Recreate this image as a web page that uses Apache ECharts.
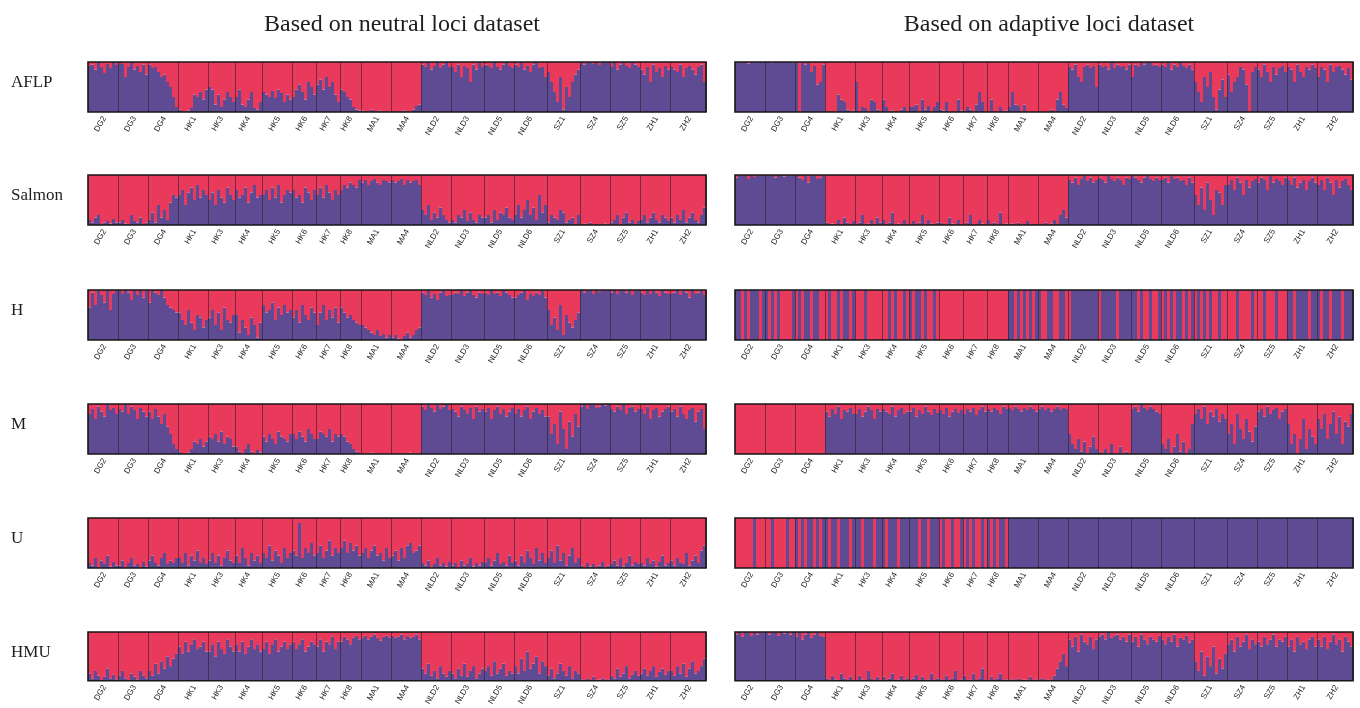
<!DOCTYPE html>
<html>
<head>
<meta charset="utf-8">
<script src="https://cdn.jsdelivr.net/npm/echarts@6/dist/echarts.min.js"></script>
<style>
  html, body { margin: 0; padding: 0; background: #ffffff; }
  #chart { width: 1360px; height: 708px; }
</style>
</head>
<body>
<div id="chart"></div>
<script>
// Sampled populations and number of individuals in each
const populations = ['DG2','DG3','DG4','HK1','HK3','HK4','HK5','HK6','HK7','HK8','MA1','MA4',
                     'NLD2','NLD3','NLD5','NLD6','SZ1','SZ4','SZ5','ZH1','ZH2'];
const sampleSizes = [10,10,10,10,9,9,10,8,8,7,10,10,10,11,10,11,11,10,10,10,12];
const markerSets = ['AFLP','Salmon','H','M','U','HMU'];
const columnTitles = ['Based on neutral loci dataset','Based on adaptive loci dataset'];

// Membership in the purple cluster (%), one inner list per population; the rest is the red cluster.
const aflpNeutral = [
  [92,95,85,100,90,78,96,88,100,94],[100,96,70,90,100,85,92,80,95,75],[95,88,90,80,70,75,60,50,30,10],
  [5,2,0,3,8,35,30,40,25,45],[50,45,15,35,10,25,40,30,20],[30,45,15,10,25,40,8,5,20],
  [40,35,30,42,28,45,38,20,35,25],[30,45,55,40,25,60,50,35],[55,65,45,70,50,60,35,20],[45,40,30,25,10,5,3],
  [3,2,0,5,2,0,3,0,2,0],[0,2,0,0,3,0,0,5,12,15],
  [95,90,100,85,92,100,88,95,100,90],[90,80,95,70,92,88,60,95,85,100,90],[95,92,88,100,90,85,95,100,92,88],
  [95,90,100,85,92,80,95,100,88,90,70],[80,60,40,20,70,5,50,30,60,75,85],[100,95,98,100,96,100,94,100,98,100],
  [90,100,85,95,100,92,88,100,95,90],[85,75,90,60,95,80,88,70,92,85],[90,85,80,95,70,88,92,85,75,90,95,60]
];
const aflpAdaptive = [
  [100,98,100,100,97,100,100,99,100,100],[100,100,99,100,100,98,100,100,100,99],[100,0,98,95,100,80,92,55,60,95],
  [0,2,0,0,35,25,20,5,0,3],[60,0,10,8,0,25,20,5,0],[25,10,0,3,0,0,5,10,0],
  [10,10,15,0,25,5,12,0,10,20],[5,3,20,0,0,0,25,3],[0,10,5,0,15,40,20,0],[0,25,0,0,10,0,3],
  [10,40,15,12,0,15,0,0,0,0],[0,0,0,0,5,0,25,40,15,8],
  [90,85,95,70,60,90,95,88,92,50],[95,90,92,85,100,88,95,90,92,85,95],[70,95,90,100,95,100,98,92,95,90],
  [95,90,100,85,95,90,100,92,88,95,85],[60,40,20,70,50,80,30,5,45,65,30],[75,40,60,70,90,85,55,0,80,90],
  [85,70,95,80,60,90,75,88,92,80],[90,85,60,95,80,70,90,85,95,88],[70,90,85,60,95,80,90,92,85,75,88,65]
];
const salmonNeutral = [
  [10,5,15,20,0,5,8,3,12,5],[5,10,3,0,20,8,5,15,0,5],[10,25,5,40,15,30,10,45,60,55],
  [60,70,40,65,75,50,80,55,70,60],[50,65,40,70,55,45,75,60,50],[70,55,60,75,45,65,80,55,60],
  [60,70,50,75,55,80,45,60,70,65],[70,55,60,45,75,65,50,70],[60,75,55,80,65,50,70,60],[70,80,75,85,80,75,90],
  [85,90,80,88,92,85,80,90,88,85],[90,85,88,92,80,90,85,88,90,80],
  [30,20,40,10,25,15,35,20,10,5],[10,5,20,15,30,8,25,10,5,20,15],[15,20,5,30,10,25,20,35,15,10],
  [20,40,15,30,50,20,35,10,60,25,40],[5,20,15,10,30,25,5,10,15,0,20],[0,3,0,5,0,2,0,0,3,0],
  [5,10,20,0,15,25,5,10,0,8],[10,20,5,15,25,10,5,20,15,8],[15,5,20,10,30,5,15,25,10,5,20,35]
];
const salmonAdaptive = [
  [95,100,98,100,92,100,96,100,98,100],[100,98,100,95,100,100,97,100,98,100],[100,95,90,100,85,98,100,92,95,100],
  [5,0,3,0,10,0,15,5,0,8],[0,5,20,0,3,10,0,15,5],[10,0,5,25,0,3,0,10,0],
  [0,8,0,5,20,0,10,3,0,5],[5,0,0,15,3,0,10,0],[0,5,20,0,0,10,3,0],[10,0,5,0,25,0,3],
  [0,3,0,5,0,0,8,0,2,0],[0,0,5,0,3,10,0,20,30,15],
  [90,85,95,80,92,100,88,95,85,90],[95,90,85,100,92,88,95,90,80,95,92],[100,95,90,85,95,100,92,88,95,90],
  [90,95,85,100,92,95,88,90,80,95,85],[60,40,75,30,85,50,20,70,65,40,80],[80,90,70,95,85,60,90,75,88,92],
  [85,95,90,70,100,85,92,88,80,95],[90,80,95,75,85,90,70,88,95,85],[80,90,70,95,85,60,90,75,88,92,80,70]
];
const hNeutral = [
  [65,95,70,100,90,75,100,60,92,100],[100,92,100,95,80,100,90,100,85,98],[75,100,95,90,100,85,70,65,60,55],
  [55,40,30,60,35,20,50,45,25,40],[45,60,30,55,20,65,40,35,50],[50,15,40,25,10,45,30,5,35],
  [70,55,60,75,40,65,50,70,55,60],[45,60,35,70,50,40,65,55],[30,55,70,40,60,45,65,35],[65,55,45,50,40,35,30],
  [30,25,20,15,10,20,8,12,5,10],[5,10,3,0,8,15,5,10,20,25],
  [95,90,100,85,92,80,95,100,88,90],[90,95,92,100,88,95,100,90,85,95,92],[95,90,100,92,95,88,100,95,90,85],
  [85,90,95,100,80,92,88,95,90,100,85],[60,30,45,20,70,10,50,35,25,40,55],[100,95,98,100,92,100,96,100,98,100],
  [95,100,92,98,100,95,100,90,98,100],[95,90,100,92,98,95,88,100,95,92],[92,95,100,90,98,95,85,100,92,95,98,90]
];
const hAdaptive = [
  [100,100,0,100,0,100,100,100,0,100],[100,0,100,0,100,0,0,0,0,100],[0,100,0,100,100,0,100,100,0,0],
  [0,100,0,0,100,0,100,100,0,100],[0,0,0,100,0,0,0,0,0],[0,0,100,0,100,0,0,100,0],
  [100,0,100,100,0,100,0,0,100,0],[0,0,0,0,0,0,0,0],[0,0,0,0,0,0,0,0],[0,0,0,0,0,0,0],
  [100,100,0,100,0,100,0,100,0,100],[100,0,0,100,100,0,0,100,100,0],
  [0,100,100,100,100,100,100,100,100,100],[0,100,100,100,100,100,0,100,100,100,100],[100,100,0,100,0,0,100,0,0,100],
  [0,100,0,100,0,100,100,0,100,0,100],[0,100,0,100,0,100,0,0,100,0,0],[0,0,0,100,0,0,0,0,100,0],
  [0,0,100,0,0,0,100,0,0,0],[100,100,0,100,100,100,100,0,100,100],[100,0,100,100,0,100,100,100,0,100,100,100]
];
const mNeutral = [
  [80,90,70,95,85,75,100,88,92,80],[90,85,100,80,95,88,70,92,85,75],[85,70,90,75,60,80,55,40,20,10],
  [5,0,0,3,10,25,20,30,15,25],[35,30,40,25,45,20,35,30,15],[15,5,0,10,20,5,0,8,3],
  [35,25,40,30,20,45,35,30,25,40],[40,30,45,35,25,50,40,30],[30,45,40,35,50,25,40,35],[40,35,25,20,10,5,2],
  [2,0,0,3,0,0,2,0,0,0],[0,0,2,0,0,0,3,0,0,0],
  [95,88,100,92,85,98,90,95,100,88],[90,85,75,95,88,80,92,70,95,85,90],[85,92,70,88,95,80,90,75,85,92],
  [80,90,75,88,95,70,85,92,80,88,75],[75,40,60,20,85,50,10,65,35,80,55],[95,100,90,98,100,92,95,100,97,100],
  [90,85,95,88,100,80,92,95,85,90],[90,80,95,70,88,92,75,85,90,95],[85,90,75,95,80,70,88,92,65,85,90,50]
];
const mAdaptive = [
  [0,0,0,0,0,0,0,0,0,0],[0,0,0,0,0,0,0,0,0,0],[0,0,0,0,0,0,0,0,0,0],
  [85,75,90,80,95,70,88,85,92,80],[80,90,75,85,95,88,70,90,85],[90,85,80,95,75,88,92,80,85],
  [85,92,75,88,80,95,85,78,90,82],[88,80,92,75,85,90,82,88],[80,90,85,92,78,88,95,85],[90,85,92,88,80,95,90],
  [92,88,95,90,85,92,88,95,90,85],[90,95,88,92,85,90,95,88,92,90],
  [40,20,10,30,5,25,0,15,35,10],[5,0,10,0,20,0,0,15,0,5,0],[90,95,85,100,92,88,95,90,85,80],
  [20,10,30,0,15,40,5,25,0,10,60],[80,90,70,95,60,85,75,90,65,80,70],[40,60,20,80,50,30,70,45,25,55],
  [85,90,75,95,80,88,92,70,85,90],[60,20,40,0,30,70,10,50,35,20],[70,50,80,30,60,85,40,75,20,65,55,80]
];
const uNeutral = [
  [10,5,20,0,15,8,25,3,12,5],[5,15,0,10,20,5,8,0,12,3],[15,25,10,5,20,30,8,15,10,20],
  [20,10,30,5,25,15,35,10,20,8],[15,30,10,25,5,20,35,15,10],[25,10,40,20,5,30,15,25,10],
  [30,20,45,15,35,25,10,40,20,30],[35,25,90,20,40,30,50,25],[30,45,20,35,55,25,40,30],[40,55,30,50,35,45,25],
  [30,40,20,35,45,25,30,15,40,20],[25,35,15,40,20,45,50,30,35,45],
  [10,5,15,0,8,20,5,10,3,12],[5,10,0,15,5,8,20,3,10,5,12],[10,20,5,15,30,8,12,5,25,10],
  [15,5,25,10,35,20,8,40,15,30,10],[20,35,10,45,15,30,5,25,40,10,20],[5,0,10,3,8,0,5,12,0,5],
  [8,15,5,20,3,10,25,5,12,8],[10,5,20,8,15,3,12,25,5,10],[15,5,20,10,8,30,5,15,25,10,35,45]
];
const uAdaptive = [
  [0,0,0,0,0,0,100,0,0,0],[0,0,100,0,0,0,0,100,0,0],[100,0,100,0,100,100,0,100,0,100],
  [100,0,100,100,0,100,100,100,0,100],[100,100,0,100,100,100,0,100,100],[100,0,100,100,100,0,100,100,100],
  [100,100,100,0,100,100,0,100,100,100],[0,100,0,0,100,0,0,100],[0,100,0,100,0,0,100,0],[100,0,100,0,100,100,0],
  [100,100,100,100,100,100,100,100,100,100],[100,100,100,100,100,100,100,100,100,100],
  [100,100,100,100,100,100,100,100,100,100],[100,100,100,100,100,100,100,100,100,100,100],[100,100,100,100,100,100,100,100,100,100],
  [100,100,100,100,100,100,100,100,100,100,100],[100,100,100,100,100,100,100,100,100,100,100],[100,100,100,100,100,100,100,100,100,100],
  [100,100,100,100,100,100,100,100,100,100],[100,100,100,100,100,100,100,100,100,100],[100,100,100,100,100,100,100,100,100,100,100,100]
];
const hmuNeutral = [
  [15,5,20,10,0,8,25,5,12,3],[10,20,5,0,15,8,3,20,10,5],[20,10,35,15,40,25,50,30,45,55],
  [70,55,80,60,75,85,65,70,80,60],[60,75,50,80,65,55,85,70,60],[75,60,80,55,70,85,65,75,60],
  [65,80,55,75,85,60,70,80,65,75],[80,65,75,85,60,70,80,75],[70,85,60,80,75,90,65,80],[80,90,85,75,88,92,85],
  [88,92,85,90,95,88,82,90,92,88],[92,88,90,95,85,92,88,90,95,85],
  [25,15,35,10,20,5,30,15,8,20],[15,5,25,10,35,8,20,30,5,15,25],[20,30,10,40,15,25,35,10,20,15],
  [30,15,45,20,60,25,35,50,15,40,30],[10,25,5,15,35,20,10,30,5,20,15],[3,0,5,0,8,0,2,5,0,3],
  [10,5,25,8,15,30,5,12,20,10],[15,25,10,20,30,8,18,25,12,20],[20,10,30,15,35,8,25,40,15,20,30,45]
];
const hmuAdaptive = [
  [95,100,90,100,98,92,100,95,100,98],[100,95,98,100,92,100,97,100,95,100],[90,100,85,95,100,88,95,100,92,90],
  [5,0,10,3,0,15,5,0,8,0],[0,10,3,0,20,5,0,8,0],[8,0,5,15,0,3,10,0,5],
  [0,5,12,0,8,0,3,15,0,5],[3,0,10,0,5,20,0,3],[10,0,3,15,0,5,25,0],[0,8,0,5,15,0,3],
  [0,3,0,5,0,2,0,8,0,3],[0,5,0,3,0,10,25,40,55,30],
  [85,70,90,60,95,80,75,90,65,85],[90,95,85,100,88,92,95,85,90,80,95],[80,90,70,95,85,75,90,85,80,92],
  [85,75,90,80,95,70,88,85,92,78,85],[40,20,60,10,50,30,70,15,45,25,55],[75,85,60,90,70,80,95,65,85,75],
  [80,70,90,75,85,95,70,85,80,90],[70,85,60,90,75,80,65,85,90,70],[85,70,90,65,80,95,75,85,60,90,80,70]
];

const panelData = [
  [aflpNeutral, aflpAdaptive],
  [salmonNeutral, salmonAdaptive],
  [hNeutral, hAdaptive],
  [mNeutral, mAdaptive],
  [uNeutral, uAdaptive],
  [hmuNeutral, hmuAdaptive]
];

const PURPLE = '#5f4b93';
const RED = '#ea3a5c';
const SERIF = "'Liberation Serif', 'Times New Roman', serif";

// layout of the 6 x 2 panel grid
const colLeft = [88, 735];
const panelWidth = 618;
const rowTop = [62, 175, 290, 404, 518, 632];
const panelHeight = 50;

// individual index bookkeeping: population starts, label positions, boundaries
const individualIds = [];
const popStart = [];
sampleSizes.forEach(n => {
  popStart.push(individualIds.length);
  for (let i = 0; i < n; i++) individualIds.push(String(individualIds.length));
});
const labelAt = new Map();
popStart.forEach((s, p) => labelAt.set(s + Math.floor(sampleSizes[p] / 2), populations[p]));
const boundaryAt = new Set(popStart.slice(1));

const grids = [], xAxes = [], yAxes = [], series = [];
panelData.forEach((row, r) => {
  row.forEach((groups, c) => {
    const k = grids.length;
    grids.push({
      left: colLeft[c], top: rowTop[r], width: panelWidth, height: panelHeight,
      show: true, borderColor: '#161616', borderWidth: 1.6,
      backgroundColor: 'rgba(0,0,0,0)', z: 6
    });
    xAxes.push({
      type: 'category', gridIndex: k, data: individualIds, boundaryGap: true, z: 5,
      axisLine: { show: false }, axisTick: { show: false },
      splitLine: {
        show: true,
        interval: (i) => boundaryAt.has(i),
        lineStyle: { color: '#2a1f2c', width: 1, opacity: 0.6 }
      },
      axisLabel: {
        interval: (i) => labelAt.has(i),
        formatter: (v, i) => labelAt.get(i) || '',
        rotate: 60, margin: 5, fontSize: 8, color: '#262626',
        fontFamily: "'Liberation Sans', Arial, sans-serif"
      }
    });
    yAxes.push({ type: 'value', gridIndex: k, min: 0, max: 100, show: false });
    const purple = groups.flat();
    const red = purple.map(v => 100 - v);
    series.push({
      type: 'bar', name: 'purple', xAxisIndex: k, yAxisIndex: k, stack: 'q' + k,
      data: purple, barCategoryGap: '0%', itemStyle: { color: PURPLE }, silent: true
    });
    series.push({
      type: 'bar', name: 'red', xAxisIndex: k, yAxisIndex: k, stack: 'q' + k,
      data: red, barCategoryGap: '0%', itemStyle: { color: RED }, silent: true
    });
  });
});

const titles = [
  { text: columnTitles[0], left: colLeft[0] + panelWidth / 2, top: 8, textAlign: 'center',
    textStyle: { fontFamily: SERIF, fontWeight: 'normal', fontSize: 24, color: '#1e1e1e' } },
  { text: columnTitles[1], left: colLeft[1] + panelWidth / 2, top: 8, textAlign: 'center',
    textStyle: { fontFamily: SERIF, fontWeight: 'normal', fontSize: 24, color: '#1e1e1e' } }
];
markerSets.forEach((name, r) => {
  titles.push({ text: name, left: 6, top: rowTop[r] + 7,
    textStyle: { fontFamily: SERIF, fontWeight: 'normal', fontSize: 17, color: '#1e1e1e' } });
});

const chart = echarts.init(document.getElementById('chart'), null, { renderer: 'canvas' });
chart.setOption({
  backgroundColor: '#ffffff',
  animation: false,
  title: titles,
  grid: grids,
  xAxis: xAxes,
  yAxis: yAxes,
  series: series
});
</script>
</body>
</html>
